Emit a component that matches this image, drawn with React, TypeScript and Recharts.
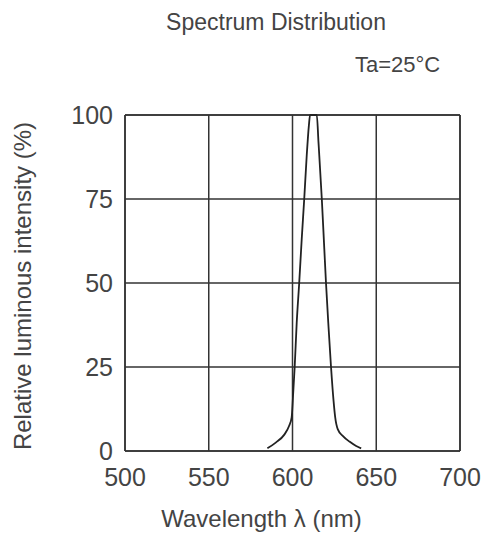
import React from "react";
import { LineChart, Line, XAxis, YAxis, CartesianGrid, ReferenceLine, Label } from "recharts";

const wavelengths = [585, 590, 595, 598, 599.5, 600.5, 601.3, 602.5, 604, 605.5, 607, 608.5, 609.8, 610.5, 614.5, 615.5, 617.5, 619, 620, 621.5, 623, 624.5, 625.5, 627, 630, 634, 638, 641];
const intensity = [0.8, 2.5, 4.8, 7.5, 10, 18, 25, 38, 50, 63, 75, 88, 97, 100, 100, 92, 75, 60, 50, 37, 25, 15, 10, 6.5, 4.5, 2.8, 1.5, 0.8];
const xTicks = [500, 550, 600, 650, 700];
const yTicks = [0, 25, 50, 75, 100];

const title = "Spectrum Distribution";
const condition = "Ta=25\u00b0C";
const xLabel = "Wavelength  \u03bb (nm)";
const yLabel = "Relative luminous intensity  (%)";

const data = wavelengths.map((w, i) => ({ w, v: intensity[i] }));

const FONT = "'Liberation Sans', Arial, sans-serif";
const TEXT = "#444";
const GRID = "#333";

export default function App() {
  return (
    <div style={{ position: "absolute", left: 0, top: 0, width: 484, height: 534, background: "#fff" }}>
      <LineChart
        width={484}
        height={534}
        data={data}
        margin={{ top: 115, right: 24, bottom: 0, left: 0 }}
        style={{ fontFamily: FONT }}
      >
        <CartesianGrid stroke={GRID} strokeWidth={1.5} horizontal vertical />
        <XAxis
          dataKey="w"
          type="number"
          domain={[500, 700]}
          ticks={xTicks}
          height={83}
          tickLine={false}
          tickSize={0}
          tickMargin={17}
          axisLine={{ stroke: GRID, strokeWidth: 1.5 }}
          tick={{ fill: TEXT, fontSize: 25, fontFamily: FONT }}
          interval={0}
        >
          <Label
            value={xLabel}
            position="insideBottom"
            offset={7}
            dx={-31}
            style={{ fill: TEXT, fontSize: 24, fontFamily: FONT }}
          />
        </XAxis>
        <YAxis
          type="number"
          domain={[0, 100]}
          ticks={yTicks}
          width={125}
          tickLine={false}
          tickSize={0}
          tickMargin={12}
          axisLine={{ stroke: GRID, strokeWidth: 1.5 }}
          tick={{ fill: TEXT, fontSize: 25, fontFamily: FONT }}
          interval={0}
        >
          <Label
            value={yLabel}
            angle={-90}
            position="insideLeft"
            offset={22}
            dy={3}
            style={{ fill: TEXT, fontSize: 24, fontFamily: FONT, textAnchor: "middle" }}
          />
        </YAxis>
        <ReferenceLine x={700} stroke={GRID} strokeWidth={1.5} />
        <ReferenceLine y={100} stroke={GRID} strokeWidth={1.5} />
        <Line
          type="monotone"
          dataKey="v"
          stroke="#222"
          strokeWidth={1.8}
          dot={false}
          isAnimationActive={false}
        />
        <text x={276} y={30} textAnchor="middle" fill={TEXT} fontSize={23} fontFamily={FONT}>
          {title}
        </text>
        <text x={355} y={72} textAnchor="start" fill={TEXT} fontSize={22} fontFamily={FONT}>
          {condition}
        </text>
      </LineChart>
    </div>
  );
}
